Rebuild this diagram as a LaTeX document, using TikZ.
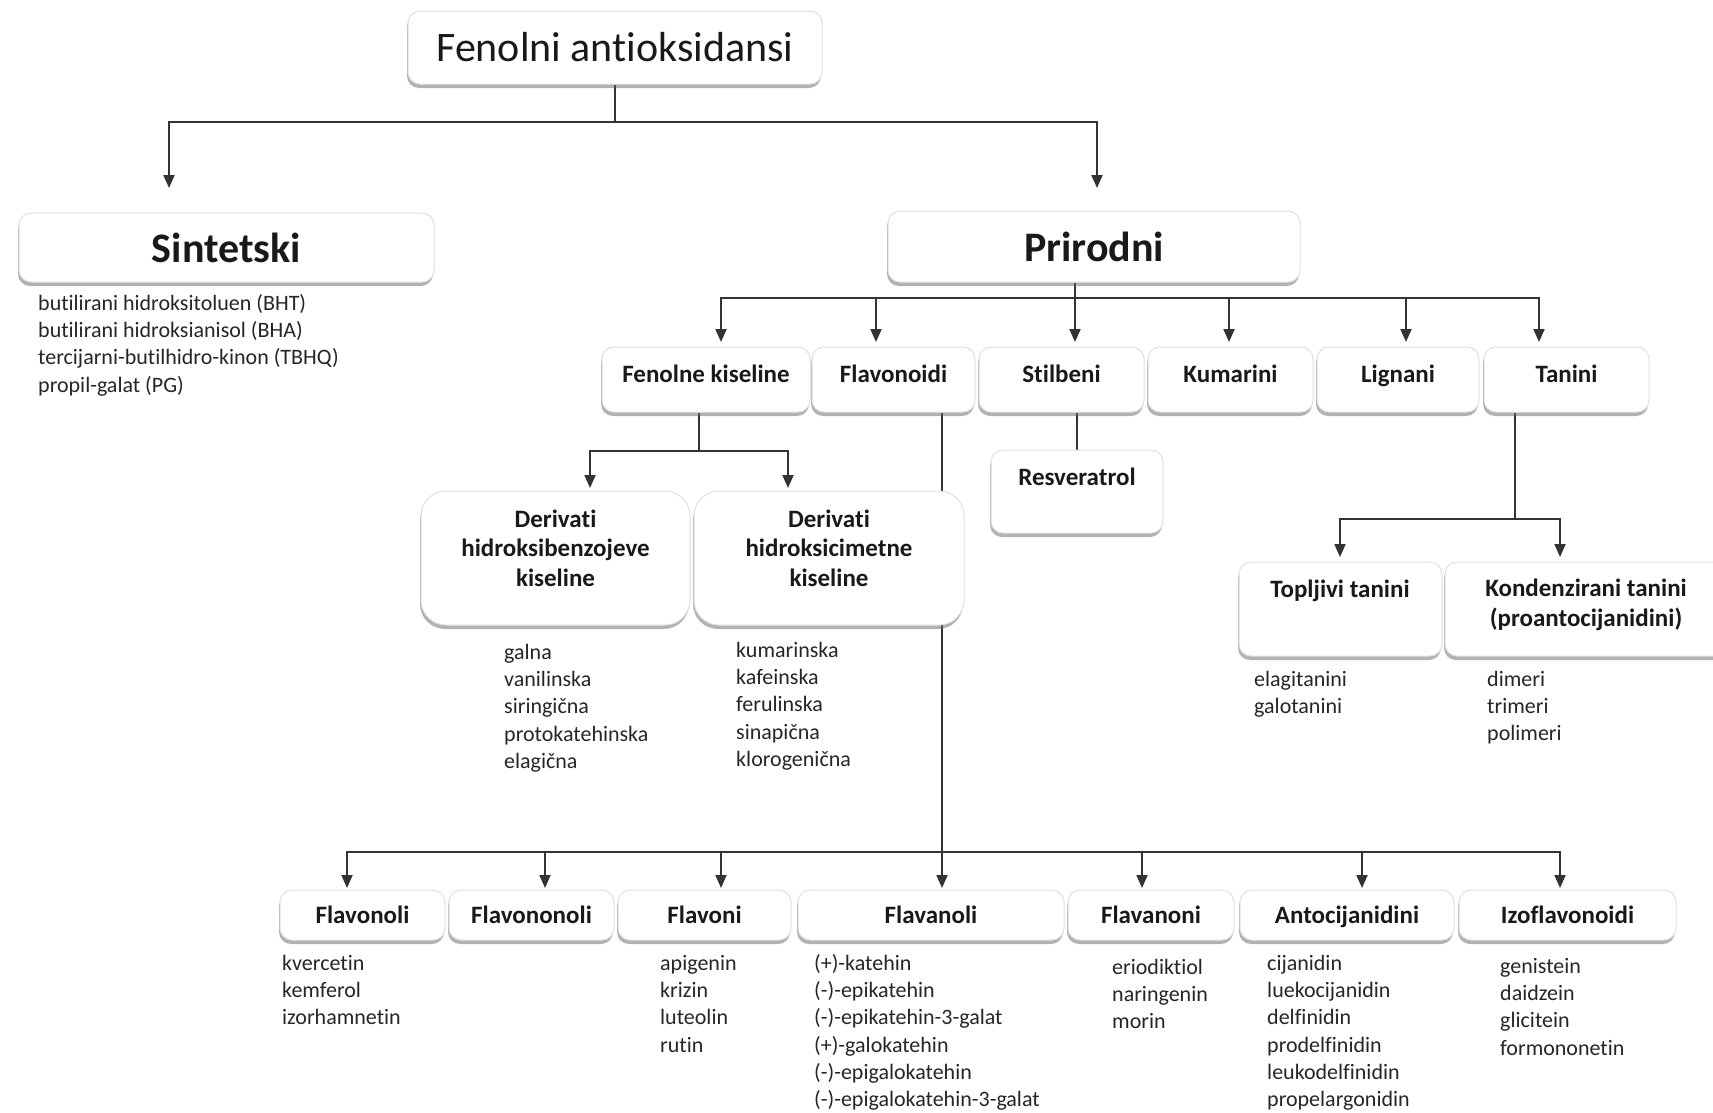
\documentclass[tikz,border=0pt]{standalone}
\usepackage{fontspec}
\setmainfont{Carlito}[Ligatures={NoCommon}]
\usetikzlibrary{arrows.meta, shadows, backgrounds}

\newcommand{\hdfont}{\fontsize{42}{50}\selectfont}
\newcommand{\lbfont}{\fontsize{25}{29.5}\selectfont\bfseries}
\newcommand{\lsfont}{\fontsize{22}{27.3}\selectfont}

\begin{document}
\begin{tikzpicture}[
  x=1pt, y=-1pt,
  box/.style={rectangle, rounded corners=12pt, draw=black!12, line width=1pt, fill=white,
    drop shadow={shadow xshift=-1pt, shadow yshift=-4pt, fill=black!60, opacity=0.5},
    inner sep=0pt, text=black!90},
  lbl/.style={font=\lbfont, text=black!90, align=center, inner sep=0pt},
  grp/.style={box, lbl, minimum height=65pt, text height=17pt, text depth=11pt},
  cls/.style={box, lbl, minimum height=50pt, text height=17pt, text depth=0pt},
  lst/.style={font=\lsfont, text=black!85, align=left, anchor=north west, inner sep=0pt},
  line/.style={draw=black!80, line width=2pt},
  arrow/.style={line, -{Triangle[length=13pt,width=11pt]}}
]
\useasboundingbox (0,0) rectangle (1713,1112);

% top levels
\node[box, font=\hdfont, minimum width=414pt, minimum height=73pt] (root) at (615,47.5) {Fenolni antioksidansi};
\node[box, font=\hdfont\bfseries, minimum width=415pt, minimum height=69pt] (sin) at (226.5,247.5) {Sintetski};
\node[box, font=\hdfont\bfseries, minimum width=412pt, minimum height=71pt] (pri) at (1094,246.5) {Prirodni};

\node[lst] (sinl) at (38,291) {\strut butilirani hidroksitoluen (BHT)\\butilirani hidroksianisol (BHA)\\tercijarni-butilhidro-kinon (TBHQ)\\propil-galat (PG)};

% natural groups
\node[grp, minimum width=208pt] (fk) at (706,379.5) {Fenolne kiseline};
\node[grp, minimum width=163pt] (fl) at (893.5,379.5) {Flavonoidi};
\node[grp, minimum width=165pt] (st) at (1061.5,379.5) {Stilbeni};
\node[grp, minimum width=165pt] (ku) at (1230.5,379.5) {Kumarini};
\node[grp, minimum width=162pt] (li) at (1398,379.5) {Lignani};
\node[grp, minimum width=165pt] (ta) at (1566.5,379.5) {Tanini};

% phenolic acids
\node[box, rounded corners=25pt, minimum width=269pt, minimum height=134pt] (hb) at (555.5,558) {};
\node[lbl] (hbt) at (555.5,548) {Derivati\\hidroksibenzojeve\\kiseline};
\node[box, rounded corners=25pt, minimum width=270pt, minimum height=134pt] (hc) at (829,558) {};
\node[lbl] (hct) at (829,548) {Derivati\\hidroksicimetne\\kiseline};

\node[lst] (hbl) at (504,640) {\strut galna\\vanilinska\\siringična\\protokatehinska\\elagična};
\node[lst] (hcl) at (736,638) {\strut kumarinska\\kafeinska\\ferulinska\\sinapična\\klorogenična};

% stilbenes
\node[box, minimum width=172pt, minimum height=83pt] (re) at (1077,491.5) {};
\node[lbl] (ret) at (1077,477) {Resveratrol};

% tannins
\node[box, minimum width=203pt, minimum height=94pt] (tt) at (1340.5,609) {};
\node[lbl] (ttt) at (1340,591) {Topljivi tanini};
\node[box, minimum width=285pt, minimum height=94pt] (kt) at (1587.5,609) {};
\node[lbl] (ktt) at (1586,605) {Kondenzirani tanini\\(proantocijanidini)};

\node[lst] (ttl) at (1254,667) {\strut elagitanini\\galotanini};
\node[lst] (ktl) at (1487,667) {\strut dimeri\\trimeri\\polimeri};

% flavonoid classes
\node[cls, minimum width=165pt] (fo) at (362.5,915) {Flavonoli};
\node[cls, minimum width=165pt] (fn) at (531.5,915) {Flavononoli};
\node[cls, minimum width=173pt] (fv) at (704.5,915) {Flavoni};
\node[cls, minimum width=266pt] (fa) at (931,915) {Flavanoli};
\node[cls, minimum width=166pt] (fni) at (1151,915) {Flavanoni};
\node[cls, minimum width=214pt] (an) at (1347,915) {Antocijanidini};
\node[cls, minimum width=217pt] (iz) at (1567.5,915) {Izoflavonoidi};

\node[lst] (fol) at (282,951) {\strut kvercetin\\kemferol\\izorhamnetin};
\node[lst] (fvl) at (660,951) {\strut apigenin\\krizin\\luteolin\\rutin};
\node[lst] (fal) at (814,951) {\strut (+)-katehin\\(-)-epikatehin\\(-)-epikatehin-3-galat\\(+)-galokatehin\\(-)-epigalokatehin\\(-)-epigalokatehin-3-galat};
\node[lst] (fnil) at (1112,955) {\strut eriodiktiol\\naringenin\\morin};
\node[lst] (anl) at (1267,951) {\strut cijanidin\\luekocijanidin\\delfinidin\\prodelfinidin\\leukodelfinidin\\propelargonidin};
\node[lst] (izl) at (1500,954) {\strut genistein\\daidzein\\glicitein\\formononetin};

% junctions and arrow ends
\coordinate (b1) at (612,122);
\coordinate (inS) at (169,188);
\coordinate (inP) at (1097,188);
\coordinate (b2) at (1075,298);
\coordinate (inFK) at (721,342);
\coordinate (inFL) at (876,342);
\coordinate (inST) at (1075,342);
\coordinate (inKU) at (1229,342);
\coordinate (inLI) at (1406,342);
\coordinate (inTA) at (1539,342);
\coordinate (b3) at (699,451);
\coordinate (inHB) at (590,488);
\coordinate (inHC) at (788,488);
\coordinate (b4) at (1515,519);
\coordinate (inTT) at (1340,557);
\coordinate (inKT) at (1560,557);
\coordinate (b5) at (942,852);
\coordinate (inFO) at (347,888);
\coordinate (inFN) at (545,888);
\coordinate (inFV) at (721,888);
\coordinate (inFA) at (942,888);
\coordinate (inFNI) at (1142,888);
\coordinate (inAN) at (1362,888);
\coordinate (inIZ) at (1560,888);

\begin{scope}[on background layer]
\fill[white] (0,0) rectangle (1713,1112);

\draw[line] (root.south) -- (root.south |- b1);
\draw[arrow] (root.south |- b1) -| (inS);
\draw[arrow] (root.south |- b1) -| (inP);

\draw[line] (pri.south -| b2) -- (b2);
\draw[arrow] (b2) -| (inFK);
\draw[arrow] (b2) -| (inFL);
\draw[arrow] (b2) -- (inST);
\draw[arrow] (b2) -| (inKU);
\draw[arrow] (b2) -| (inLI);
\draw[arrow] (b2) -| (inTA);

\draw[line] (fk.south -| b3) -- (b3);
\draw[arrow] (b3) -| (inHB);
\draw[arrow] (b3) -| (inHC);

\draw[line] (st.south -| re.north) -- (re.north);

\draw[line] (ta.south -| b4) -- (b4);
\draw[arrow] (b4) -| (inTT);
\draw[arrow] (b4) -| (inKT);

\draw[line] (fl.south -| b5) -- (b5);
\draw[arrow] (b5) -| (inFO);
\draw[arrow] (b5) -| (inFN);
\draw[arrow] (b5) -| (inFV);
\draw[arrow] (b5) -- (inFA);
\draw[arrow] (b5) -| (inFNI);
\draw[arrow] (b5) -| (inAN);
\draw[arrow] (b5) -| (inIZ);
\end{scope}

\end{tikzpicture}
\end{document}
